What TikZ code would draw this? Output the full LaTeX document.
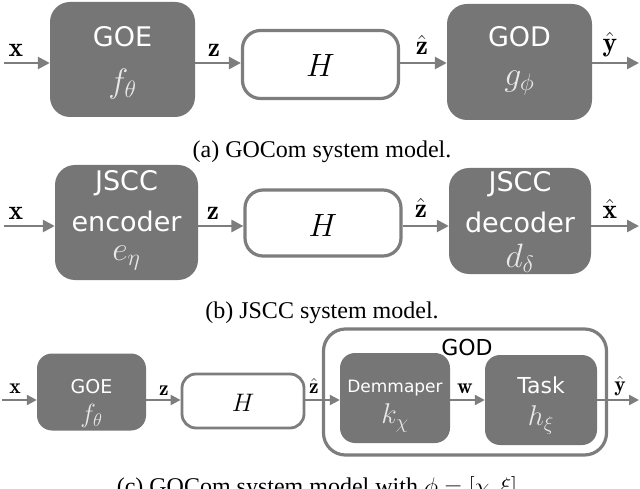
\RequirePackage{fix-cm}
\documentclass[tikz,border=0pt]{standalone}
\usepackage{fontspec}
\usepackage{amsmath}
\newfontfamily\boxfont{DejaVu Sans}
\newfontfamily\capfont{Liberation Serif}
\usetikzlibrary{arrows.meta}
\definecolor{boxgray}{RGB}{118,118,118}
\definecolor{linegray}{RGB}{125,125,125}
\definecolor{mathlight}{RGB}{232,232,232}
\begin{document}
\begin{tikzpicture}[x=1pt,y=-1pt,
  blk/.style={fill=boxgray, draw=none, rounded corners=20pt, inner sep=0pt},
  sblk/.style={fill=boxgray, draw=none, rounded corners=15pt, inner sep=0pt},
  chan/.style={draw=linegray, line width=3.2pt, fill=white, rounded corners=18pt, inner sep=0pt},
  schan/.style={draw=linegray, line width=2.8pt, fill=white, rounded corners=14pt, inner sep=0pt},
  arr/.style={draw=linegray, line width=2.6pt, -{Triangle[length=12pt,width=12pt]}},
  sarr/.style={draw=linegray, line width=2.2pt, -{Triangle[length=10pt,width=10pt]}},
  btxt/.style={text=white, inner sep=0pt, font=\boxfont\fontsize{27}{27}\selectfont},
  sbtxt/.style={text=white, inner sep=0pt, font=\boxfont\fontsize{21}{21}\selectfont},
  mtxt/.style={text=mathlight, inner sep=0pt, font=\fontsize{26}{26}\selectfont, scale=1.3, transform shape},
  smtxt/.style={text=mathlight, inner sep=0pt, font=\fontsize{22}{22}\selectfont, scale=1.3, transform shape},
  lab/.style={inner sep=0pt, font=\fontsize{22}{22}\selectfont, scale=1.25, transform shape},
  slab/.style={inner sep=0pt, font=\fontsize{18}{18}\selectfont, scale=1.2, transform shape},
  htxt/.style={inner sep=0pt, font=\fontsize{28}{28}\selectfont, scale=1.15, transform shape},
  shtxt/.style={inner sep=0pt, font=\fontsize{22}{22}\selectfont, scale=1.15, transform shape},
  captxt/.style={inner sep=0pt, anchor=base, font=\capfont\fontsize{24}{24}\selectfont}
]
\useasboundingbox (0,0) rectangle (640,489);

% ---------------- panel (a) ----------------
\coordinate (ya) at (0,63);
\coordinate (xina) at (4,63);
\coordinate (youta) at (639,63);
\node[blk, minimum width=145pt, minimum height=115pt] (goea) at (122.5,59.5) {};
\node[chan, minimum width=156pt, minimum height=68pt] (cha) at (320.5,64.5) {};
\node[blk, minimum width=145pt, minimum height=116pt] (goda) at (519.5,62) {};
\node[btxt] (goeat) at (122.5,37) {GOE};
\node[mtxt] (goeam) at (122.5,84) {$f_\theta$};
\node[btxt] (godat) at (519.5,37) {GOD};
\node[mtxt] (godam) at (519.5,83) {$g_\phi$};
\node[htxt] (chat) at (320.5,66) {$H$};
\draw[arr] (xina) -- (goea.west |- ya);
\draw[arr] (goea.east |- ya) -- (cha.west |- ya);
\draw[arr] (cha.east |- ya) -- (goda.west |- ya);
\draw[arr] (goda.east |- ya) -- (youta);
\node[lab] (lxa) at (16,50) {$\mathbf{x}$};
\node[lab] (lza) at (214,50) {$\mathbf{z}$};
\node[lab] (lzha) at (422,45) {$\hat{\mathbf{z}}$};
\node[lab] (lyha) at (610,45) {$\hat{\mathbf{y}}$};
\node[captxt] (capa) at (322,158) {(a) GOCom system model.};

% ---------------- panel (b) ----------------
\coordinate (yb) at (0,226);
\coordinate (xinb) at (4,226);
\coordinate (youtb) at (639,226);
\node[blk, minimum width=143pt, minimum height=115pt] (encb) at (126.5,222.5) {};
\node[chan, minimum width=156pt, minimum height=66pt] (chb) at (323,223) {};
\node[blk, minimum width=142pt, minimum height=106pt] (decb) at (520,221) {};
\node[btxt] (encb1) at (126.5,183) {JSCC};
\node[btxt] (encb2) at (126.5,221) {encoder};
\node[mtxt] (encb3) at (126.5,258) {$e_\eta$};
\node[btxt] (decb1) at (520,184) {JSCC};
\node[btxt] (decb2) at (520,222) {decoder};
\node[mtxt] (decb3) at (520,258) {$d_\delta$};
\node[htxt] (chbt) at (323,225) {$H$};
\draw[arr] (xinb) -- (encb.west |- yb);
\draw[arr] (encb.east |- yb) -- (chb.west |- yb);
\draw[arr] (chb.east |- yb) -- (decb.west |- yb);
\draw[arr] (decb.east |- yb) -- (youtb);
\node[lab] (lxb) at (16,213) {$\mathbf{x}$};
\node[lab] (lzb) at (213,213) {$\mathbf{z}$};
\node[lab] (lzhb) at (421,208) {$\hat{\mathbf{z}}$};
\node[lab] (lxhb) at (610,209) {$\hat{\mathbf{x}}$};
\node[captxt] (capb) at (322,318) {(b) JSCC system model.};

% ---------------- panel (c) ----------------
\coordinate (yc) at (0,400);
\coordinate (xinc) at (2,400);
\coordinate (youtc) at (639,400);
\node[draw=linegray, line width=3.2pt, fill=white, rounded corners=22pt, minimum width=283pt, minimum height=126pt, inner sep=0pt] (godc) at (465,392) {};
\node[sblk, minimum width=109pt, minimum height=77pt] (goec) at (91.5,392) {};
\node[schan, minimum width=122pt, minimum height=54pt] (chc) at (243,401) {};
\node[sblk, minimum width=110pt, minimum height=90pt] (demc) at (395,398) {};
\node[sblk, minimum width=112pt, minimum height=90pt] (taskc) at (541,400) {};
\node[inner sep=0pt, font=\boxfont\fontsize{22}{22}\selectfont] (godct) at (467,347) {GOD};
\node[sbtxt, font=\boxfont\fontsize{19}{19}\selectfont] (goect) at (91.5,387) {GOE};
\node[smtxt, scale=0.92] (goecm) at (91.5,416) {$f_\theta$};
\node[inner sep=0pt, text=white, font=\boxfont\fontsize{17}{17}\selectfont] (demct) at (395,388) {Demmaper};
\node[smtxt] (demcm) at (395,418) {$k_\chi$};
\node[sbtxt, font=\boxfont\fontsize{22}{22}\selectfont] (taskct) at (541,385) {Task};
\node[smtxt] (taskcm) at (541,420) {$h_\xi$};
\node[shtxt] (chct) at (243,403) {$H$};
\draw[sarr] (xinc) -- (goec.west |- yc);
\draw[sarr] (goec.east |- yc) -- (chc.west |- yc);
\draw[sarr] (chc.east |- yc) -- (demc.west |- yc);
\draw[sarr] (demc.east |- yc) -- (taskc.west |- yc);
\draw[sarr] (taskc.east |- yc) -- (youtc);
\node[slab] (lxc) at (15,389) {$\mathbf{x}$};
\node[slab] (lzc) at (164,391) {$\mathbf{z}$};
\node[slab] (lzhc) at (314,386) {$\hat{\mathbf{z}}$};
\node[slab] (lwc) at (465,389) {$\mathbf{w}$};
\node[slab] (lyhc) at (620,386) {$\hat{\mathbf{y}}$};
\node[captxt] (capc) at (320,494) {(c) GOCom system model with $\phi=[\chi,\xi]$.};
\end{tikzpicture}
\end{document}
